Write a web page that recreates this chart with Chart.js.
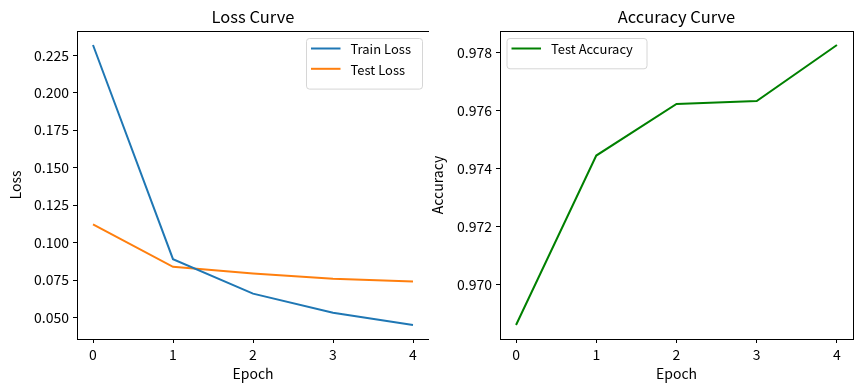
<!DOCTYPE html>
<html>
<head>
<meta charset="utf-8">
<script src="https://cdn.jsdelivr.net/npm/chart.js@4.4.1/dist/chart.umd.min.js"></script>
<style>
html,body{margin:0;padding:0;background:#fff;}
#wrap{position:relative;width:862px;height:390px;background:#fff;overflow:hidden;}
.box{position:absolute;top:0;height:390px;}
</style>
</head>
<body>
<div id="wrap">
  <div class="box" style="left:0;width:431px;"><canvas id="c1"></canvas></div>
  <div class="box" style="left:429px;width:433px;"><canvas id="c2"></canvas></div>
</div>
<script>
// ---- data ----
const epochs = [0, 1, 2, 3, 4];
const trainLoss = [0.2318, 0.0890, 0.0660, 0.0533, 0.0451];
const testLoss = [0.1122, 0.0839, 0.0795, 0.0759, 0.0741];
const testAccuracy = [0.96860, 0.97444, 0.97622, 0.97632, 0.97825];
const lossTicks = [0.050, 0.075, 0.100, 0.125, 0.150, 0.175, 0.200, 0.225];
const accTicks = [0.970, 0.972, 0.974, 0.976, 0.978];
const lossTitle = 'Loss Curve';
const accTitle = 'Accuracy Curve';
const xLabel = 'Epoch';
const lossLabel = 'Loss';
const accLabel = 'Accuracy';

const FONT = '"Noto Sans CJK JP", "Noto Sans", sans-serif';

function pts(xs, ys){ return xs.map((x,i)=>({x:x, y:ys[i]})); }
function margins(arrs){
  const all = [].concat(...arrs);
  const mn = Math.min(...all), mx = Math.max(...all), d = (mx-mn)*0.05;
  return [mn-d, mx+d];
}

const framePlugin = {
  id:'frame',
  beforeDraw(chart){
    const c = chart.ctx;
    c.save(); c.fillStyle='#fff'; c.fillRect(0,0,chart.width,chart.height); c.restore();
  },
  afterDraw(chart, args, opts){
    const c = chart.ctx, a = chart.chartArea;
    c.save();
    c.strokeStyle = '#000'; c.lineWidth = 1;
    c.strokeRect(Math.round(a.left)+0.5, Math.round(a.top)+0.5, Math.round(a.right-a.left), Math.round(a.bottom-a.top));
    // title
    c.fillStyle = '#000';
    c.font = '16.5px ' + FONT;
    c.textAlign = 'center'; c.textBaseline = 'middle';
    c.fillText(opts.title, (a.left+a.right)/2, 17);
    // legend
    const ds = chart.data.datasets;
    const L = opts.legend;
    const rowH = 20.3;
    const h = 8 + rowH*ds.length + 2;
    c.font = '13px ' + FONT;
    let tw = 0; ds.forEach(d=>{ tw = Math.max(tw, c.measureText(d.label).width); });
    const w = L.w;
    const x0 = L.right ? a.right - 6.5 - w : a.left + 7;
    const y0 = a.top + 7.5;
    c.beginPath();
    const r = 3;
    c.moveTo(x0+r, y0); c.lineTo(x0+w-r, y0); c.quadraticCurveTo(x0+w, y0, x0+w, y0+r);
    c.lineTo(x0+w, y0+h-r); c.quadraticCurveTo(x0+w, y0+h, x0+w-r, y0+h);
    c.lineTo(x0+r, y0+h); c.quadraticCurveTo(x0, y0+h, x0, y0+h-r);
    c.lineTo(x0, y0+r); c.quadraticCurveTo(x0, y0, x0+r, y0);
    c.closePath();
    c.fillStyle = 'rgba(255,255,255,0.8)'; c.fill();
    c.strokeStyle = '#d6d6d6'; c.lineWidth = 1; c.stroke();
    ds.forEach((d,i)=>{
      const yy = y0 + 10 + i*rowH;
      c.strokeStyle = d.borderColor; c.lineWidth = 2;
      c.beginPath(); c.moveTo(x0+4.5, yy); c.lineTo(x0+34, yy); c.stroke();
      c.fillStyle = '#000'; c.textAlign='left'; c.textBaseline='middle';
      c.fillText(d.label, x0+44, yy+1);
    });
    c.restore();
  }
};

function makeChart(id, datasets, yr, yTicks, yTitle, yFmt, geom, title, legend){
  return new Chart(document.getElementById(id), {
    type:'line',
    data:{ datasets: datasets },
    options:{
      responsive:true, maintainAspectRatio:false, animation:false,
      devicePixelRatio:1,
      layout:{ padding:{ left:0, top:31, right:geom.right, bottom:0 } },
      plugins:{ legend:{display:false}, tooltip:{enabled:false}, frame:{title:title, legend:legend} },
      elements:{ point:{radius:0}, line:{borderWidth:2, tension:0} },
      scales:{
        x:{
          type:'linear', min:-0.2, max:4.2,
          afterBuildTicks(s){ s.ticks = epochs.map(v=>({value:v})); },
          afterFit(s){ s.height = 51; },
          grid:{ drawOnChartArea:false, drawTicks:true, tickLength:4, color:'#000', lineWidth:1 },
          border:{ display:false },
          ticks:{ color:'#000', font:{family:FONT, size:14}, padding:3, maxRotation:0, callback:v=>String(v) },
          title:{ display:true, text:xLabel, color:'#000', font:{family:FONT, size:14}, padding:{top:0, bottom:8.3} }
        },
        y:{
          type:'linear', min:yr[0], max:yr[1],
          afterBuildTicks(s){ s.ticks = yTicks.map(v=>({value:v})); },
          afterFit(s){ s.width = geom.left; },
          grid:{ drawOnChartArea:false, drawTicks:true, tickLength:4, color:'#000', lineWidth:1 },
          border:{ display:false },
          ticks:{ color:'#000', font:{family:FONT, size:14}, padding:4, callback:yFmt },
          title:{ display:true, text:yTitle, color:'#000', font:{family:FONT, size:14}, padding:{top:geom.tpad, bottom:0} }
        }
      }
    },
    plugins:[framePlugin]
  });
}

makeChart('c1', [
  {label:'Train Loss', data:pts(epochs, trainLoss), borderColor:'#1f77b4', backgroundColor:'#1f77b4', fill:false},
  {label:'Test Loss', data:pts(epochs, testLoss), borderColor:'#ff7f0e', backgroundColor:'#ff7f0e', fill:false}
], margins([trainLoss, testLoss]), lossTicks, lossLabel, v=>v.toFixed(3),
 {left:77, right:2, tpad:7.6}, lossTitle, {right:true, w:116});

makeChart('c2', [
  {label:'Test Accuracy', data:pts(epochs, testAccuracy), borderColor:'#008000', backgroundColor:'#008000', fill:false}
], margins([testAccuracy]), accTicks, accLabel, v=>v.toFixed(3),
 {left:71, right:9, tpad:0.3}, accTitle, {right:false, w:140});
</script>
</body>
</html>
